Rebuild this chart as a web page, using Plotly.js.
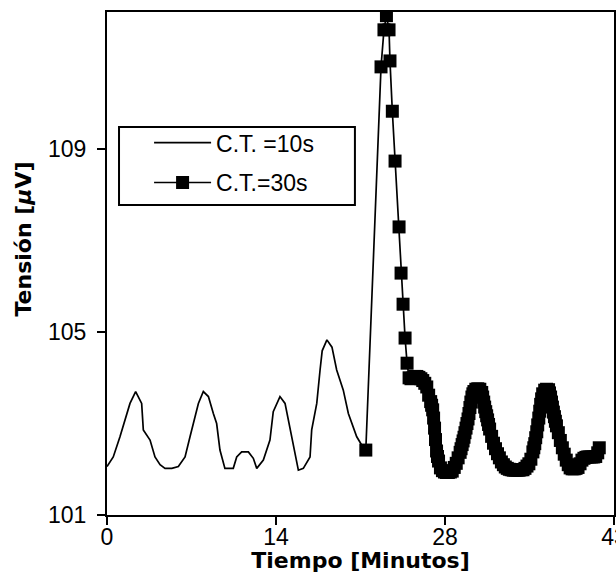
<!DOCTYPE html>
<html>
<head>
<meta charset="utf-8">
<script src="https://cdn.plot.ly/plotly-3.0.1.min.js"></script>
<style>
  html, body { margin: 0; padding: 0; background: #ffffff; }
  #chart { width: 616px; height: 573px; }
</style>
</head>
<body>
<div id="chart"></div>
<script>
// ---- Data ----
const seriesNames = ['C.T. =10s', 'C.T.=30s'];

// C.T. = 10 s (thin line, no markers)
const ct10Time = [0, 0.53, 1.1, 1.53, 1.95, 2.43, 2.94, 3.08, 3.65, 4.07,
  4.5, 4.92, 5.5, 6.05, 6.62, 7.04, 7.4, 7.75, 8.17, 8.6,
  9.02, 9.3, 9.58, 10.0, 10.71, 11.0, 11.42, 11.99, 12.41, 12.7,
  13.26, 13.82, 14.1, 14.67, 15.1, 15.52, 15.95, 16.23, 16.65, 17.22,
  17.36, 17.79, 18.07, 18.25, 18.65, 19.08, 19.48, 20.04, 20.47, 21.18,
  21.6, 21.95];
const ct10Volt = [102.06, 102.27, 102.71, 103.08, 103.44, 103.70, 103.44, 102.86, 102.64, 102.27,
  102.10, 102.02, 102.02, 102.06, 102.27, 102.71, 103.10, 103.44, 103.70, 103.59,
  103.22, 103.00, 102.42, 102.02, 102.02, 102.27, 102.38, 102.38, 102.24, 102.02,
  102.20, 102.64, 103.26, 103.59, 103.44, 102.90, 102.42, 101.98, 102.02, 102.27,
  102.86, 103.44, 104.17, 104.59, 104.83, 104.67, 104.17, 103.73, 103.22, 102.71,
  102.53, 102.42];

// C.T. = 30 s (line with square markers)
const ct30Time = [21.95, 23.24, 23.49, 23.7, 23.92, 24.0, 24.2, 24.43, 24.77, 24.94, 25.11, 25.28,
  25.45, 25.62, 25.78, 25.95, 26.12, 26.28, 26.45, 26.62, 26.78, 26.95,
  27.12, 27.28, 27.45, 27.53, 27.62, 27.70, 27.78, 27.86, 27.95, 28.03, 28.12, 28.28, 28.45, 28.62,
  28.78, 28.95, 29.12, 29.28, 29.45, 29.62, 29.78, 29.95, 30.03, 30.12, 30.20, 30.28, 30.36,
  30.45, 30.53, 30.62, 30.70, 30.78, 30.86, 30.95, 31.03, 31.12, 31.28, 31.45, 31.62, 31.78, 31.86, 31.95,
  32.03, 32.12, 32.20, 32.28, 32.36, 32.45, 32.62, 32.78, 32.95, 33.12, 33.28, 33.45, 33.62,
  33.78, 33.95, 34.12, 34.28, 34.45, 34.62, 34.78, 34.95, 35.12, 35.28,
  35.45, 35.62, 35.78, 35.95, 36.12, 36.20, 36.28, 36.36, 36.45, 36.53, 36.62, 36.70, 36.78, 36.86, 36.95,
  37.12, 37.28, 37.45, 37.53, 37.62, 37.70, 37.78, 37.86, 37.95, 38.03, 38.12, 38.28, 38.45, 38.62,
  38.78, 38.95, 39.12, 39.28, 39.45, 39.62, 39.78, 39.95, 40.12, 40.28,
  40.45, 40.62, 40.78, 40.95, 41.12, 41.28, 41.45, 41.62, 41.75];
const ct30Volt = [102.42, 110.80, 111.61, 111.92, 111.61, 110.93, 109.83, 108.74, 107.30, 106.29, 105.61, 104.87,
  104.32, 104.00, 103.98, 104.00, 104.03, 104.03, 104.01, 103.98, 103.94, 103.88,
  103.80, 103.62, 103.48, 103.40, 103.30, 103.12, 102.90, 102.65, 102.40, 102.28, 102.18, 102.03, 101.97, 101.94,
  101.93, 101.93, 101.94, 101.96, 102.04, 102.13, 102.25, 102.37, 102.45, 102.54, 102.62, 102.70, 102.80,
  102.90, 103.00, 103.10, 103.22, 103.35, 103.47, 103.58, 103.65, 103.70, 103.75, 103.76, 103.75, 103.68, 103.58, 103.47,
  103.36, 103.26, 103.17, 103.08, 102.98, 102.88, 102.72, 102.57, 102.45, 102.34, 102.25, 102.16, 102.10,
  102.05, 102.02, 102.00, 101.99, 101.98, 101.98, 101.98, 101.98, 101.99, 101.99,
  102.02, 102.07, 102.12, 102.22, 102.38, 102.47, 102.56, 102.69, 102.82, 102.97, 103.12, 103.27, 103.42, 103.54, 103.65,
  103.73, 103.75, 103.74, 103.67, 103.58, 103.47, 103.36, 103.25, 103.15, 103.05, 102.95, 102.80, 102.63, 102.47,
  102.33, 102.20, 102.10, 102.03, 102.01, 102.01, 102.02, 102.04, 102.12, 102.20,
  102.24, 102.26, 102.27, 102.27, 102.27, 102.27, 102.28, 102.36, 102.47];

// Axis ticks
const xTickVals = [0, 14.33, 28.67, 43];
const xTickText = ['0', '14', '28', '43'];
const yTickVals = [101, 105, 109];
const yTickText = ['101', '105', '109'];

const xTitle = 'Tiempo [Minutos]';
const yTitle = 'Tensión [<i>μ</i>V]';

// ---- Chart ----
const traces = [
  {
    x: ct10Time, y: ct10Volt, name: seriesNames[0],
    type: 'scatter', mode: 'lines',
    line: { color: '#000000', width: 1.7 },
    legendgroup: 'a'
  },
  {
    x: ct30Time, y: ct30Volt, name: seriesNames[1],
    type: 'scatter', mode: 'lines+markers',
    line: { color: '#000000', width: 1.7 },
    marker: { symbol: 'square', size: 13, color: '#000000' },
    legendgroup: 'b'
  }
];

const tickFont = { family: 'Liberation Sans, Arial, sans-serif', size: 23, color: '#000000' };
const titleFont = { family: 'DejaVu Sans, sans-serif', size: 22, color: '#000000', weight: 'bold' };

const layout = {
  width: 616, height: 573,
  margin: { l: 107, r: 2, t: 12, b: 58, pad: 0 },
  paper_bgcolor: '#ffffff', plot_bgcolor: '#ffffff',
  showlegend: true,
  legend: {
    x: 0.083, y: 0.783, xanchor: 'left', yanchor: 'top',
    bgcolor: 'rgba(0,0,0,0)', borderwidth: 0,
    font: { family: 'Liberation Sans, Arial, sans-serif', size: 23, color: '#000000' },
    itemwidth: 57, tracegroupgap: 7
  },
  xaxis: {
    range: [0, 43], autorange: false,
    tickmode: 'array', tickvals: xTickVals, ticktext: xTickText,
    ticks: 'outside', ticklen: 8, tickwidth: 2, tickcolor: '#000000',
    showline: true, linecolor: '#000000', linewidth: 2, mirror: true,
    showgrid: false, zeroline: false,
    tickfont: tickFont, ticklabelstandoff: -8, ticklabeloverflow: 'allow',
    title: { text: xTitle, font: titleFont, standoff: 4 }
  },
  yaxis: {
    range: [101, 112], autorange: false,
    tickmode: 'array', tickvals: yTickVals, ticktext: yTickText,
    ticks: 'outside', ticklen: 8, tickwidth: 2, tickcolor: '#000000',
    showline: true, linecolor: '#000000', linewidth: 2, mirror: true,
    showgrid: false, zeroline: false,
    tickfont: tickFont, ticklabelstandoff: 6,
    title: { text: '' }
  },
  annotations: [
    {
      text: yTitle, xref: 'paper', yref: 'paper',
      x: -0.1637, y: 0.5477, xanchor: 'center', yanchor: 'middle',
      textangle: -90, showarrow: false, font: titleFont
    }
  ],
  shapes: [
    {
      type: 'rect', xref: 'paper', yref: 'paper',
      x0: 0.0237, x1: 0.489, y0: 0.6163, y1: 0.7714,
      line: { color: '#000000', width: 2 }, fillcolor: 'rgba(0,0,0,0)'
    }
  ]
};

Plotly.newPlot('chart', traces, layout, { staticPlot: true, displayModeBar: false });
</script>
</body>
</html>
